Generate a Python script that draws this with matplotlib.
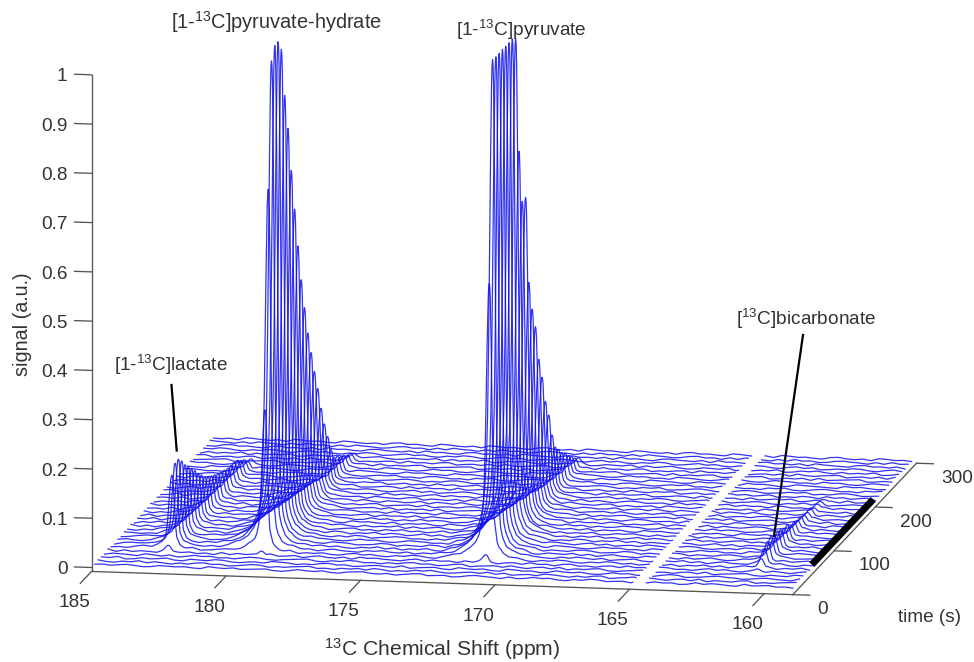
import numpy as np
import matplotlib
matplotlib.use("Agg")
import matplotlib.pyplot as plt
from matplotlib.lines import Line2D
from mpl_toolkits.mplot3d import proj3d

plt.rcParams['font.family'] = ['Liberation Sans', 'DejaVu Sans']
plt.rcParams['mathtext.default'] = 'regular'
plt.rcParams['mathtext.fontset'] = 'custom'
plt.rcParams['mathtext.rm'] = 'Liberation Sans'

# ---- data -----------------------------------------------------------------
times = [8 * i for i in range(1, 38)]
shift_start, shift_stop = 185.0, 159.05
gap = (165.0, 164.5)
peak_shifts = {'lactate': 182.75, 'hydrate': 179.29, 'pyruvate': 170.95, 'bicarbonate': 160.84}

lactate = [0, 0, 0, 0, .012, .148, .165, .166, .156, .142, .131, .119, .108, .095, .085, .075,
           .068, .062, .057, .052, .048, .045, .043, .041, .039, .037, .03, .022, .015, .01,
           0, 0, 0, 0, 0, 0, 0]
hydrate = [0, 0, 0, 0, .01, .287, .727, .982, 1.006, 1.005, .984, .884, .808, .717, .629, .551,
           .473, .411, .351, .303, .259, .215, .172, .132, .097, .067, .042, .035, .03, .024,
           .018, .012, .006, 0, 0, 0, 0]
pyruvate = [0, 0, 0, 0, .015, .56, 1.006, 1.005, 1.006, 1.005, 1.005, 1.005, 1.006, .999, .763, .654,
            .656, .477, .414, .373, .298, .256, .199, .164, .116, .085, .072, .06, .05, .04,
            .03, .02, .012, 0, 0, 0, 0]
bicarbonate = [0, 0, 0, 0, .003, .02, .032, .04, .042, .04, .037, .034, .031, .028, .024, .021,
               .019, .017, .015, .014, .012, .01, .008, .006, .004, 0, 0, 0, 0, 0,
               0, 0, 0, 0, 0, 0, 0]

# line shape: distance from the peak centre (ppm) and fraction of the peak height
shape_offset = [-1.484, -1.039, -.742, -.519, -.371, -.297, -.185, -.148, -.111, -.074, -.037, -.018, 0,
                .018, .037, .074, .111, .148, .185, .223, .297, .371, .519, .742, 1.039, 1.484, 2.04]
shape_height = [0, .005, .01, .02, .04, .06, .15, .28, .5, .76, .95, .99, 1,
                .99, .95, .8, .6, .42, .28, .2, .13, .09, .06, .035, .018, .006, 0]

# baseline wiggle of each trace, one digit per 0.3 ppm (4.5 is zero signal)
baseline_rows = [
    "453564236545327546345632475463256743524673452367542634756325476345273645237465327456342",
    "632547364253674523576243567342546375243657423564736245376425367245736425637254367243567",
    "547236457326547632453765243674523564372456327546327645237546324756342576234675423564327",
    "365427536247563425763245673254763425367452367245637425637254673245763425637245673254376",
    "726354275463527364527346257436275643257364526374256374526734256374527634257463257364257",
    "453672546372456327456372546325746325476325746352746325476325476352473625473625743625473",
    "267543265743625743265473625743265743625473264573264753264753624573265473625743265473265",
    "574236574326574236547326574632547362547326547263547236547362574326574263574236574263574",
    "346752346752436752346725437652347625437625346752436725436752347625437625436752436752346",
    "653427653247653427563427653247563247653427563247653427653247563427653247563427563247653",
    "425376425736245376245736425376245763425376245736245376425736245376425763245376245736425",
    "736254736254376254736524376254736524736254376254736524376254736254376524736254376254736",
    "264735264735247365264735246735264735247365264735246735264735247365264735246735264735247",
    "547263547263574263547236574263547263574236547263574263547236574263547263574236547263574",
    "372546372546327546372546327564372546327546372564327546372546327564372546327546372564327",
    "625374625374652374625347652374625374652347625374652374625347652374625374652347625374652",
    "453726453726435726453762435726453726435762453726435726453762435726453726435762453726435",
    "736452736452763452736425763452736452763425736452763452736425763452736452763425736452763",
    "254637254637245637254673245637254637245673254637245637254673245637254637245673254637245",
    "563724563724536724563742536724563724536742563724536724563742536724563724536742563724536",
    "347265347265374265347256374265347265374256347265374265347256374265347265374256347265374",
    "672543672543627543672534627543672543627534672543627543672534627543672543627534672543627",
    "425736425736452736425763452736425736452763425736452736425763452736425736452763425736452",
    "736245736245763245736254763245736245763254736245763245736254763245736245763254736245763",
    "364527364527346527364572346527364527346572364527346527364572346527364527346572364527346",
    "527463527463572463527436572463527463572436527463572463527436572463527463572436527463572",
    "243675243675234675243657234675243675234657243675234675243657234675243675234657243675234",
    "675342675342657342675324657342675342657324675342657342675324657342675342657324675342657",
    "432756432756423756432765423756432756423765432756423756432765423756432756423765432756423",
    "756324756324765324756342765324756324765342756324765324756342765324756324765342756324765",
    "345672345672354672345627354672345672354627345672354672345627354672345672354627345672354",
    "672453672453627453672435627453672453627435672453627453672435627453672453627435672453627",
    "263547263547236547263574236547263547236574263547236547263574236547263547236574263547236",
    "547632547632574632547623574632547632574623547632574632547623574632547632574623547632574",
    "326745326745362745326754362745326745362754326745362745326754362745326745362754326745362",
    "754263754263745263754236745263754263745236754263745263754236745263754263745236754263745",
    "435276435276453276435267453276435276453267435276453276435267453276435276453267435276453",
]
baseline_step = 0.0009

tick_shift = [185, 180, 175, 170, 165, 160]
tick_time = [0, 100, 200, 300]
tick_signal = [0, .1, .2, .3, .4, .5, .6, .7, .8, .9, 1]
tick_signal_labels = ['0', '0.1', '0.2', '0.3', '0.4', '0.5', '0.6', '0.7', '0.8', '0.9', '1']
marked_time = (46, 195)

# ---- figure ----------------------------------------------------------------
W, H = 974, 662
fig = plt.figure(figsize=(W / 100, H / 100), dpi=100)
S = 1094.0
cx, cy = 504.0, 269.0
frac = 0.095 / 0.185
ax = fig.add_axes([(cx - frac * S) / W, (H - cy - frac * S) / H, S / W, S / H],
                  projection='3d', proj_type='ortho')
ax.computed_zorder = False
xlo, xhi = 185.0, 158.93
tlo, thi = 0.0, 300.0
zlo, zhi = -0.008, 1.0
ax.set_xlim(xlo, xhi, view_margin=0)
ax.set_ylim(tlo, thi, view_margin=0)
ax.set_zlim(zlo, zhi, view_margin=0)
ax.set_box_aspect((1, 1, 0.71))
ax.view_init(elev=10.8, azim=-80)
ax.set_axis_off()

# traces
series = [(lactate, peak_shifts['lactate']), (hydrate, peak_shifts['hydrate']),
          (pyruvate, peak_shifts['pyruvate']), (bicarbonate, peak_shifts['bicarbonate'])]
extra = np.concatenate([p + np.array(shape_offset) for _, p in series] + [list(gap)])
for i, (t, row) in enumerate(zip(times, baseline_rows)):
    xc = np.linspace(shift_start, shift_stop, len(row))
    noise = (np.array([int(c) for c in row]) - 4.5) * baseline_step
    x = np.unique(np.concatenate([xc, extra[(extra < shift_start) & (extra > shift_stop)],
                                  [sum(gap) / 2]]))
    z = np.interp(x, xc[::-1], noise[::-1])
    for amps, p in series:
        z = z + amps[i] * np.interp(x - p, shape_offset, shape_height)
    z[(x < gap[0]) & (x > gap[1])] = np.nan
    ax.plot(x, np.full_like(x, t), z, color='#1010ee', lw=0.9, alpha=0.85, zorder=2)

# axis lines and ticks
ac = '#555555'
lw_ax = 0.95
ax.plot([xlo, xhi], [tlo, tlo], [zlo, zlo], color=ac, lw=lw_ax, zorder=3)
ax.plot([xhi, xhi], [tlo, thi], [zlo, zlo], color=ac, lw=lw_ax, zorder=3)
ax.plot([xlo, xlo], [tlo, tlo], [zlo, zhi], color=ac, lw=lw_ax, zorder=3)
tc = '#333333'
fs = 13.7
M = ax.get_proj()


def text3(x, t, z, s, **kw):
    # place a label at a data position, as ordinary 2D text
    px2, py2, _ = proj3d.proj_transform(x, t, z, M)
    ax.text2D(px2, py2, s, transform=ax.transData, fontsize=fs, color=tc, **kw)


for v in tick_shift:
    ax.plot([v, v], [tlo, -27], [zlo, zlo], color=ac, lw=lw_ax, zorder=3)
    text3(v, -41, zlo - 0.027, str(v), ha='center', va='center')
for v in tick_time:
    ax.plot([xhi, xhi - 0.63], [v, v], [zlo, zlo], color=ac, lw=lw_ax, zorder=3)
    text3(xhi - 0.91, v, zlo - 0.029, str(v), ha='left', va='center')
for v, s in zip(tick_signal, tick_signal_labels):
    ax.plot([xlo, xlo + 0.63], [tlo, tlo], [v, v], color=ac, lw=lw_ax, zorder=3)
    text3(xlo + 0.89, tlo, v - 0.006, s, ha='right', va='center')

# thick time marker
ax.plot([xhi, xhi], list(marked_time), [0.012, 0.012], color='black', lw=5.0,
        solid_capstyle='butt', zorder=4)


def px(x, y):
    return x / W, 1 - y / H


def label(x, y, s, size=fs, **kw):
    fx, fy = px(x, y)
    fig.text(fx, fy, s, ha='center', va='center', fontsize=size, color=tc, **kw)


label(276, 22, '[1-$^{13}$C]pyruvate-hydrate', size=14.4)
label(521, 30, '[1-$^{13}$C]pyruvate')
label(171, 365, '[1-$^{13}$C]lactate')
label(806, 319, '[$^{13}$C]bicarbonate')
label(23, 324, 'signal (a.u.)', size=14.2, rotation=90)
label(442, 649, '$^{13}$C Chemical Shift (ppm)', size=15.2)
label(929, 617, 'time (s)')

for (x0, y0), (x1, y1) in [((171.5, 385), (176.7, 450.5)), ((803, 335), (774, 536))]:
    a, b = px(x0, y0), px(x1, y1)
    fig.add_artist(Line2D([a[0], b[0]], [a[1], b[1]], color='black', lw=1.6,
                          transform=fig.transFigure))

fig.savefig('out.png', dpi=100)
